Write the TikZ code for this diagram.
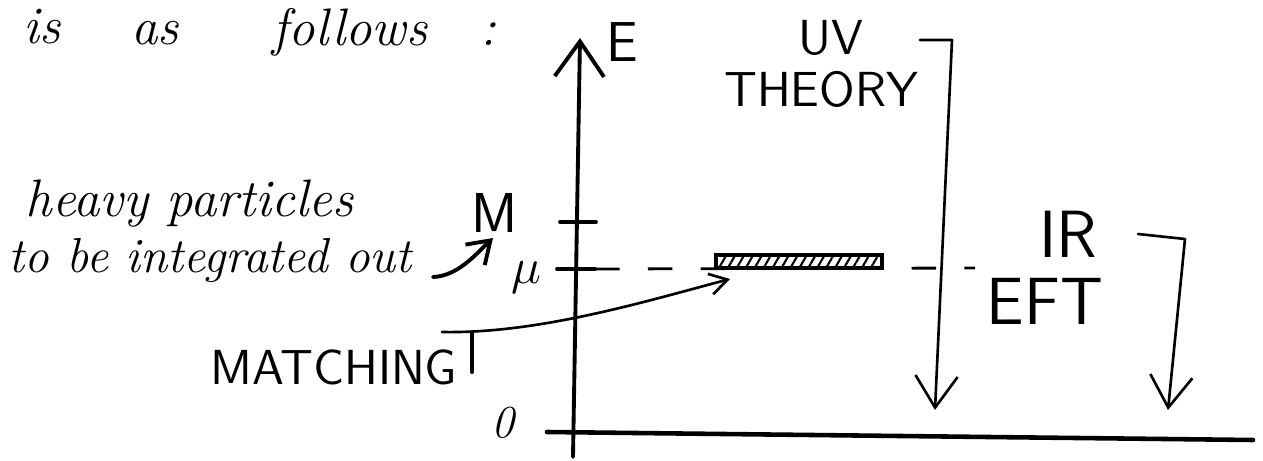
\documentclass[tikz,border=0pt]{standalone}
\usepackage{fontspec}
\usetikzlibrary{arrows.meta,patterns.meta}

\begin{document}
\begin{tikzpicture}[
    x=0.01cm, y=-0.01cm,
    hand/.style={inner sep=0pt, font=\fontsize{#1}{#1}\selectfont\itshape},
    caps/.style={inner sep=0pt, font=\fontsize{#1}{#1}\selectfont\sffamily},
    stroke/.style={line width=1.1pt, line cap=round, line join=round},
    lightstroke/.style={line width=0.75pt, line cap=round, line join=round},
    barb/.style={-{Straight Barb[length=9pt,width=12pt]}},
    smallbarb/.style={-{Straight Barb[length=5pt,width=6pt]}},
    scaledash/.style={line width=0.8pt, dash pattern=on 7pt off 8pt}
  ]
  \useasboundingbox (0,0) rectangle (1263,461);

  %% running text above the sketch
  \node[hand=15,anchor=base] (wis)      at (42,44)  {is};
  \node[hand=15,anchor=base] (was)      at (155,45) {as};
  \node[hand=15,anchor=base] (wfollows) at (350,46) {follows};
  \node[hand=15,anchor=base] (wcolon)   at (488,46) {:};

  %% energy axis
  \coordinate (Ebot) at (573,457);
  \coordinate (Etop) at (580,38);
  \draw[stroke,-{Straight Barb[length=10pt,width=14pt]}] (Ebot) -- (Etop);
  \node[caps=16,anchor=base west] (Elab) at (606,62) {E};

  %% bottom axis
  \coordinate (zeroL) at (547,432);
  \coordinate (zeroR) at (1253,440);
  \draw[stroke,line width=1.3pt] (zeroL) -- (zeroR);
  \node[hand=13,anchor=base] (zerolab) at (503,438) {0};

  %% scales M and mu
  \coordinate (MtickL) at (560,222);
  \coordinate (MtickR) at (596,222);
  \coordinate (mutickL) at (557,269);
  \coordinate (mutickR) at (595,269);
  \draw[stroke] (MtickL) -- (MtickR);
  \draw[stroke] (mutickL) -- (mutickR);
  \node[caps=16,anchor=base] (Mlab) at (495,232) {M};
  \node[inner sep=0pt,font=\fontsize{15}{15}\selectfont,anchor=base] (mulab) at (526,284) {$\mu$};

  \coordinate (dashend) at (975,268);
  \draw[scaledash] (mutickR) -- (dashend);
  \node[draw,line width=1.2pt,minimum width=1.66cm,minimum height=0.13cm,inner sep=0pt,
        fill=white,pattern={Lines[angle=60,distance=2.2pt,line width=0.6pt]}] (bar) at (799,261.5) {};

  %% heavy particles
  \node[hand=15,anchor=base west] (heavy)  at (25,217) {heavy particles};
  \node[hand=14,anchor=base west] (intout) at (8,273)  {to be integrated out};
  \coordinate (outA) at (433,277);
  \coordinate (outB) at (493,238);
  \draw[stroke,-{Straight Barb[length=6pt,width=8pt]}] (outA) .. controls (458,276) and (476,254) .. (outB);

  %% matching
  \node[caps=14,anchor=base] (matching) at (334,384) {MATCHING};
  \coordinate (matchA) at (442,332);
  \coordinate (matchT) at (472,333);
  \coordinate (matchTb) at (472,372);
  \coordinate (matchB) at (730,279);
  \draw[lightstroke,smallbarb] (matchA) .. controls (540,334) and (650,300) .. (matchB);
  \draw[stroke] (matchT) -- (matchTb);

  %% UV theory
  \node[caps=14,anchor=base] (uv)     at (831,55)  {UV};
  \node[caps=14,anchor=base] (theory) at (821,107) {THEORY};
  \coordinate (uvA) at (920,40);
  \coordinate (uvB) at (952,40);
  \coordinate (uvC) at (935,410);
  \draw[lightstroke,barb] (uvA) -- (uvB) -- (uvC);

  %% IR EFT
  \node[caps=19,anchor=base] (ir)  at (1068,258) {IR};
  \node[caps=19,anchor=base] (eft) at (1045,325) {EFT};
  \coordinate (irA) at (1138,234);
  \coordinate (irB) at (1185,239);
  \coordinate (irC) at (1168,410);
  \draw[lightstroke,barb] (irA) -- (irB) -- (irC);
\end{tikzpicture}
\end{document}
